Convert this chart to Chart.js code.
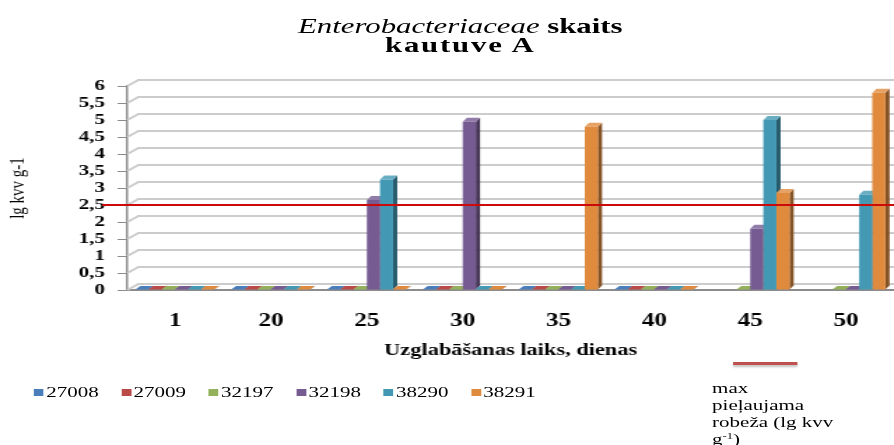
<!DOCTYPE html>
<html>
<head>
<meta charset="utf-8">
<script src="https://cdn.jsdelivr.net/npm/chart.js@4.4.1/dist/chart.umd.min.js"></script>
<style>
    html, body { margin: 0; padding: 0; background: #fff; overflow: hidden; }
    /* the reference picture is stretched sideways, so the whole chart is drawn narrow and scaled */
    #wrap { position: relative; width: 639px; height: 445px; transform: scaleX(1.399); transform-origin: 0 0;
            font-family: "Liberation Serif", "Times New Roman", serif; color: #000; }
    #chart { display: block; }
    #title { position: absolute; left: 329px; top: 16px; transform: translateX(-50%); white-space: nowrap;
             text-align: center; font-weight: bold; font-size: 22px; line-height: 19px; }
    #title i { font-weight: normal; }
    #title b { letter-spacing: 1.3px; }
    .lg { position: absolute; top: 384px; font-size: 15px; line-height: 17px; white-space: nowrap; }
    .lg span { display: inline-block; width: 7px; height: 7px; margin-right: 2px; vertical-align: 1px; }
    #limitSample { position: absolute; left: 524px; top: 362px; width: 46px; height: 3px; box-shadow: 0 2px 2px rgba(0,0,0,0.25); }
    #limitText { position: absolute; left: 509px; top: 380px; font-size: 15px; line-height: 17px; white-space: nowrap; }
    #limitText sup { font-size: 9px; line-height: 0; vertical-align: 5px; }
</style>
</head>
<body>
<div id="wrap">
    <canvas id="chart" width="639" height="445"></canvas>
    <div id="title"><i>Enterobacteriaceae</i> skaits<br><b>kautuve A</b></div>
    <div id="legend"></div>
    <div id="limitSample"></div>
    <div id="limitText">max<br>pieļaujama<br>robeža (lg kvv<br>g<sup>-1</sup>)</div>
</div>
<script>
    // Storage days (x categories)
    const days = ['1', '20', '25', '30', '35', '40', '45', '50'];

    // Strains and their lg cfu/g counts, null = not measured
    const strainNames = ['27008', '27009', '32197', '32198', '38290', '38291'];
    const s27008 = [0, 0, 0, 0, 0, 0, null, null];
    const s27009 = [0, 0, 0, 0, 0, 0, null, null];
    const s32197 = [0, 0, 0, 0, 0, 0, 0, 0];
    const s32198 = [0, 0, 2.65, 4.95, 0, 0, 1.8, 0];
    const s38290 = [0, 0, 3.25, 0, 0, 0, 5.0, 2.8];
    const s38291 = [0, 0, 0, 0, 4.8, 0, 2.85, 5.8];
    const seriesValues = [s27008, s27009, s32197, s32198, s38290, s38291];
    const strainColors = ['#4a7ebb', '#b94a47', '#93b05a', '#765b92', '#4399b4', '#e08a3e'];

    // Upper limit line
    const limitValue = 2.5;

    const yTitle = 'lg kvv g-1';
    const xTitle = 'Uzglabāšanas laiks, dienas';
    const serif = "'Liberation Serif', 'Times New Roman', serif";

    // mix a hex colour toward black (f < 0) or white (f > 0)
    function shade(hex, f) {
        const n = parseInt(hex.slice(1), 16);
        const ch = [n >> 16, (n >> 8) & 255, n & 255].map(c => {
            const t = f < 0 ? 0 : 255;
            return Math.round(c + (t - c) * Math.abs(f));
        });
        return 'rgb(' + ch.join(',') + ')';
    }

    // back wall grid lines, then side and top faces so the bars look like 3D columns
    const bar3d = {
        id: 'bar3d',
        beforeDatasetsDraw(chart) {
            const ctx = chart.ctx;
            const area = chart.chartArea;
            const yScale = chart.scales.y;
            ctx.save();
            ctx.strokeStyle = '#cccccc';
            ctx.fillStyle = '#cccccc';
            ctx.lineWidth = 2;
            yScale.ticks.forEach(tick => {
                const y0 = Math.round(yScale.getPixelForValue(tick.value));
                // slanted piece from the axis to the back wall
                ctx.beginPath();
                ctx.moveTo(area.left, y0);
                ctx.lineTo(area.left + 8, y0 - 6);
                ctx.stroke();
                // the wall line itself as a solid 2px band
                ctx.fillRect(area.left + 7, y0 - 7, area.right - area.left - 7, 2);
            });
            ctx.restore();

            chart.data.datasets.forEach((ds, i) => {
                const meta = chart.getDatasetMeta(i);
                meta.data.forEach((bar, j) => {
                    if (ds.data[j] === null) return;
                    const flat = ds.data[j] === 0;
                    const dx = 3, dy = flat ? 3 : 4;
                    const { x, y, base, width } = bar.getProps(['x', 'y', 'base', 'width'], true);
                    const l = x - width / 2, r = x + width / 2;
                    const t = Math.min(y, base), b = Math.max(y, base);
                    ctx.fillStyle = shade(ds.backgroundColor, -0.4);
                    ctx.beginPath();
                    ctx.moveTo(r, t); ctx.lineTo(r + dx, t - dy); ctx.lineTo(r + dx, b - dy); ctx.lineTo(r, b);
                    ctx.closePath(); ctx.fill();
                    ctx.fillStyle = shade(ds.backgroundColor, flat ? 0 : 0.2);
                    ctx.beginPath();
                    ctx.moveTo(l, t); ctx.lineTo(l + dx, t - dy); ctx.lineTo(r + dx, t - dy); ctx.lineTo(r, t);
                    ctx.closePath(); ctx.fill();
                });
            });
        }
    };

    // red limit line, drawn over the bars
    const limitLine = {
        id: 'limitLine',
        afterDatasetsDraw(chart) {
            const ctx = chart.ctx;
            const yScale = chart.scales.y;
            const y = yScale.getPixelForValue(limitValue);
            ctx.save();
            ctx.strokeStyle = '#cc0a0a';
            ctx.lineWidth = 2;
            ctx.beginPath();
            ctx.moveTo(yScale.right - 18, y);
            ctx.lineTo(chart.width, y);
            ctx.stroke();
            ctx.restore();
        }
    };

    new Chart(document.getElementById('chart'), {
        type: 'bar',
        data: {
            labels: days,
            datasets: strainNames.map((name, i) => ({
                label: name,
                data: seriesValues[i],
                backgroundColor: strainColors[i],
                borderWidth: 0,
                minBarLength: 1,
                categoryPercentage: 0.82,
                barPercentage: 1
            }))
        },
        options: {
            responsive: false,
            animation: false,
            events: [],
            layout: { padding: { top: 86, right: 0, bottom: 85, left: 0 } },
            plugins: {
                legend: { display: false },
                title: { display: false },
                tooltip: { enabled: false }
            },
            scales: {
                x: {
                    grid: { display: true, drawOnChartArea: false, tickLength: 21, tickColor: 'rgba(0,0,0,0)' },
                    border: { color: '#8c8c8c', width: 2 },
                    ticks: { padding: 0, maxRotation: 0, color: '#000', font: { family: serif, size: 18, weight: 'bold' } },
                    title: { display: true, text: xTitle, color: '#000', padding: 0, font: { family: serif, size: 16, weight: 'bold' } },
                    afterFit(scale) { scale.height = 70; }
                },
                y: {
                    min: 0,
                    max: 6,
                    ticks: {
                        stepSize: 0.5,
                        autoSkip: false,
                        padding: 9,
                        color: '#000',
                        font: { family: serif, size: 15, weight: 'bold' },
                        callback: v => String(v).replace('.', ',')
                    },
                    grid: { display: true, drawOnChartArea: false, tickLength: 7, tickColor: '#8c8c8c' },
                    border: { color: '#8c8c8c', width: 1.5 },
                    title: { display: true, text: yTitle, color: '#000', padding: { top: 4, bottom: 0 }, font: { family: serif, size: 15 } },
                    afterFit(scale) { scale.width = 91; }
                }
            }
        },
        plugins: [bar3d, limitLine]
    });

    // bottom legend for the strains
    const legend = document.getElementById('legend');
    strainNames.forEach((name, i) => {
        const item = document.createElement('div');
        item.className = 'lg';
        item.style.left = (24 + i * 62.5) + 'px';
        item.innerHTML = '<span style="background:' + strainColors[i] + '"></span>' + name;
        legend.appendChild(item);
    });
    document.getElementById('limitSample').style.background = '#c0504d';
</script>
</body>
</html>
